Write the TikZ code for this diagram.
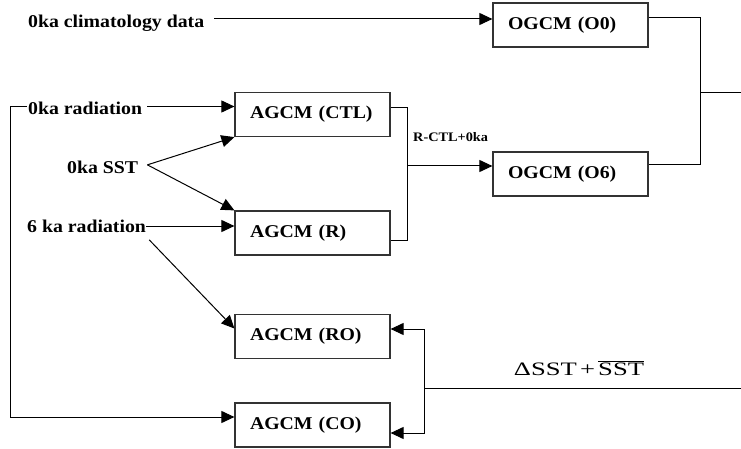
\documentclass[tikz,border=0pt]{standalone}
\usepackage{fontspec}
\usepackage{graphicx}
\setmainfont{Liberation Serif}[FakeStretch=1.1]
\newfontfamily\formfont{Liberation Serif}[FakeStretch=1.4]
\usetikzlibrary{arrows.meta}
\tikzset{
  modelbox/.style={draw=black!80, line width=1.2pt, minimum width=155pt, minimum height=44pt,
    inner sep=0pt, text width=125pt, align=left, font=\bfseries\fontsize{18}{18}\selectfont},
  lbl/.style={inner sep=0pt, anchor=base west, font=\bfseries\fontsize{18}{18}\selectfont},
  smalllbl/.style={inner sep=0pt, anchor=base west, font=\bfseries\fontsize{13}{13}\selectfont},
  conn/.style={line width=1pt, draw=black},
  arr/.style={conn, -{Triangle[length=13pt,width=12pt]}}
}
\begin{document}
\begin{tikzpicture}[x=1pt,y=-1pt]
\useasboundingbox (0,0) rectangle (741,449);
% boxes
\node[modelbox] (O0) at (570.5,25) {OGCM (O0)};
\node[modelbox] (O6) at (570.5,174) {OGCM (O6)};
\node[modelbox] (CTL) at (312.5,114.5) {AGCM (CTL)};
\node[modelbox] (R) at (312.5,233) {AGCM (R)};
\node[modelbox] (RO) at (312.5,336.5) {AGCM (RO)};
\node[modelbox] (CO) at (312.5,425) {AGCM (CO)};
% labels
\node[lbl] (clim) at (28,28) {0ka climatology data};
\node[lbl] (rad0) at (28,115) {0ka radiation};
\node[lbl] (sst) at (67,174) {0ka SST};
\node[lbl] (rad6) at (27,233) {6 ka radiation};
\node[smalllbl] (rctl) at (413,142) {R-CTL+0ka};
\node[inner sep=0pt, anchor=base] (form) at (579,375)
  {\scalebox{1.0}[1]{\formfont\fontsize{19}{19}\selectfont ΔSST\,+\,$\overline{\hbox{\formfont\fontsize{19}{19}\selectfont SST}}$}};
% coordinates
\coordinate (O0in) at ([yshift=6pt]O0.west);
\coordinate (O6in) at ([yshift=8pt]O6.west);
\coordinate (CTLin) at ([yshift=8pt]CTL.west);
\coordinate (Rin) at ([yshift=7pt]R.west);
\coordinate (ROin) at ([yshift=8pt]RO.west);
\coordinate (COin) at ([yshift=8pt]CO.west);
\coordinate (CTLout) at ([yshift=7pt]CTL.east);
\coordinate (Rout) at ([yshift=-7pt]R.east);
\coordinate (O0out) at ([yshift=7pt]O0.east);
\coordinate (O6out) at ([yshift=9pt]O6.east);
\coordinate (ROr) at ([yshift=7.5pt]RO.east);
\coordinate (COr) at ([yshift=-8pt]CO.east);
\coordinate (loopx) at (10,0);
\coordinate (busA) at (407,0);
\coordinate (busB) at (700,0);
\coordinate (busC) at (424,0);
\coordinate (outA) at (741,93);
\coordinate (outB) at (741,388);
\coordinate (sstout) at ([xshift=9pt,yshift=3pt]sst.east);
\coordinate (rad6d) at ([xshift=3pt,yshift=-13pt]rad6.east);
% connectors
\draw[arr] ([xshift=10pt]clim.east |- O0in) -- (O0in);
\draw[arr] ([xshift=5pt]rad0.east |- CTLin) -- (CTLin);
\draw[arr] ([xshift=-1pt]rad0.west |- CTLin) -- (loopx |- CTLin) -- (loopx |- COin) -- (COin);
\draw[arr] (sstout) -- (CTL.south west);
\draw[arr] (sstout) -- (R.north west);
\draw[arr] (rad6.east |- Rin) -- (Rin);
\draw[arr] (rad6d) -- (ROin);
\draw[conn] (CTLout) -- (busA |- CTLout) -- (busA |- Rout) -- (Rout);
\draw[arr] (busA |- O6in) -- (O6in);
\draw[conn] (O0out) -- (busB |- O0out) -- (busB |- O6out) -- (O6out);
\draw[conn] (busB |- outA) -- (outA);
\draw[arr] (busC |- outB) -- (busC |- ROr) -- (ROr);
\draw[arr] (busC |- outB) -- (busC |- COr) -- (COr);
\draw[conn] (busC |- outB) -- (outB);
\end{tikzpicture}
\end{document}
